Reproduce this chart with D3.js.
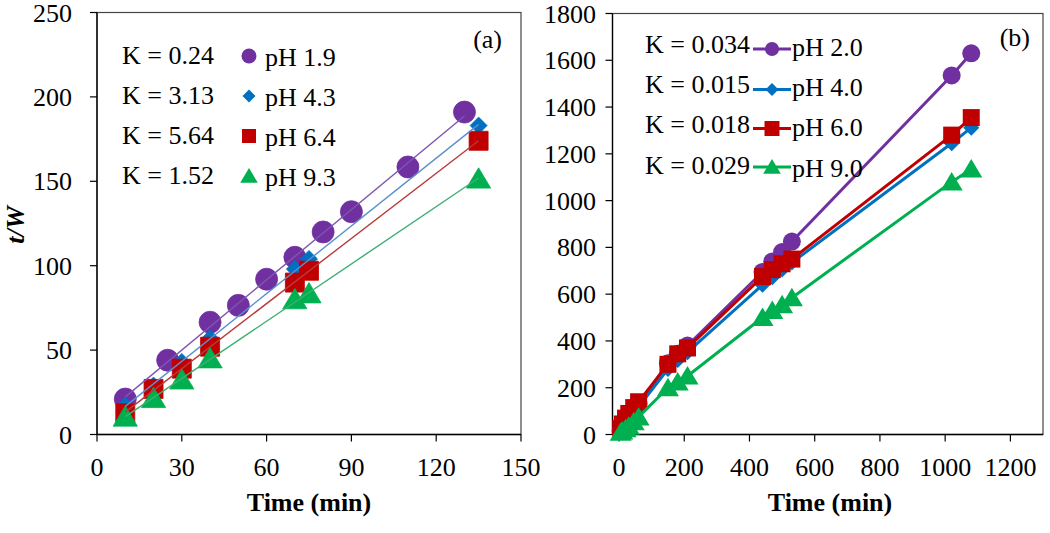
<!DOCTYPE html>
<html><head><meta charset="utf-8">
<script src="https://cdn.jsdelivr.net/npm/d3@7"></script>
<style>
html,body{margin:0;padding:0;background:#fff;}
svg{display:block;}
text{font-family:"Liberation Serif","Times New Roman",serif;fill:#000;}
</style></head>
<body>
<svg id="chart" width="1050" height="533"></svg>
<script>
// ---------- Panel (a) data ----------
const timeA1 = [10, 25, 40, 50, 60, 70, 80, 90, 110, 130];
const tW_pH19 = [21, 44, 66.5, 76.5, 92, 105, 120, 132, 158.5, 191];
const timeA2 = [10, 20, 30, 40, 70, 75, 135];
const tW_pH43 = [17, 29, 43, 57, 98, 104, 183];
const tW_pH64 = [12.5, 27, 39, 52, 90, 97, 174];
const tW_pH93 = [10.5, 21.5, 32.5, 45, 80, 83.5, 151.5];
const labelsA = ["pH 1.9", "pH 4.3", "pH 6.4", "pH 9.3"];
const kA = ["K = 0.24", "K = 3.13", "K = 5.64", "K = 1.52"];
const xTicksA = [0, 30, 60, 90, 120, 150];
const yTicksA = [0, 50, 100, 150, 200, 250];

// ---------- Panel (b) data ----------
const timeB = [5, 10, 20, 30, 45, 60, 150, 180, 210, 440, 470, 500, 530, 1020, 1080];
const tW_pH20 = [15, 30, 50, 70, 100, 130, 305, 345, 380, 695, 740, 780, 825, 1535, 1630];
const tW_pH40 = [12, 25, 45, 62, 88, 118, 280, 318, 352, 640, 672, 705, 735, 1245, 1312];
const tW_pH60 = [25, 45, 70, 90, 115, 140, 300, 345, 370, 675, 705, 730, 750, 1280, 1355];
const tW_pH90 = [10, 15, 25, 35, 55, 75, 200, 225, 250, 500, 530, 555, 585, 1080, 1135];
const labelsB = ["pH 2.0", "pH 4.0", "pH 6.0", "pH 9.0"];
const kB = ["K = 0.034", "K = 0.015", "K = 0.018", "K = 0.029"];
const xTicksB = [0, 200, 400, 600, 800, 1000, 1200];
const yTicksB = [0, 200, 400, 600, 800, 1000, 1200, 1400, 1600, 1800];

// ---------- styles ----------
const colors = ["#7030A0", "#0070C0", "#C00000", "#00B050"];
const fitColors = ["#7F55B0", "#5B8FCF", "#B83A3A", "#3DAF72"];
const shapes = ["circle", "diamond", "square", "triangle"];
const FS = 26;

const svg = d3.select("#chart");

function markerPath(shape, size) {
  // size: characteristic half-size in px
  const s = size;
  if (shape === "circle") return d3.symbol(d3.symbolCircle, Math.PI * s * s)();
  if (shape === "square") return `M${-s},${-s}H${s}V${s}H${-s}Z`;
  if (shape === "diamond") return `M0,${-s}L${s},0L0,${s}L${-s},0Z`;
  if (shape === "triangle") return `M0,${-s}L${s * 1.1},${s * 0.85}L${-s * 1.1},${s * 0.85}Z`;
}
const sizeA = { circle: 11, square: 9.5, diamond: 8.5, triangle: 11 };
const sizeB = { circle: 9, square: 8.5, diamond: 8, triangle: 10 };
const sizeLegA = { circle: 7.5, square: 7, diamond: 6.5, triangle: 8 };
const sizeLegB = { circle: 7, square: 7.5, diamond: 6.5, triangle: 8 };

function drawAxes(g, x, y, xt, yt, left, right, top, bottom, yLabelEnd) {
  // frame
  g.append("rect").attr("x", left).attr("y", top)
    .attr("width", right - left).attr("height", bottom - top)
    .attr("fill", "none").attr("stroke", "#444").attr("stroke-width", 1.2);
  // left axis
  g.append("line").attr("x1", left).attr("x2", left).attr("y1", top).attr("y2", bottom)
    .attr("stroke", "#000").attr("stroke-width", 1.3);
  g.append("line").attr("x1", left).attr("x2", right).attr("y1", bottom).attr("y2", bottom)
    .attr("stroke", "#000").attr("stroke-width", 1.3);
  yt.forEach(v => {
    g.append("line").attr("x1", left - 7).attr("x2", left).attr("y1", y(v)).attr("y2", y(v))
      .attr("stroke", "#000").attr("stroke-width", 1.2);
    g.append("text").attr("x", yLabelEnd).attr("y", y(v) + 9).attr("text-anchor", "end")
      .attr("font-size", FS).text(v);
  });
  xt.forEach(v => {
    g.append("line").attr("x1", x(v)).attr("x2", x(v)).attr("y1", bottom).attr("y2", bottom + 7)
      .attr("stroke", "#000").attr("stroke-width", 1.2);
    g.append("text").attr("x", x(v)).attr("y", 476).attr("text-anchor", "middle")
      .attr("font-size", FS).text(v);
  });
}

// ================= Panel (a) =================
const gA = svg.append("g");
const xA = d3.scaleLinear().domain([0, 150]).range([97, 521]);
const yA = d3.scaleLinear().domain([0, 250]).range([434.5, 12.5]);
drawAxes(gA, xA, yA, xTicksA, yTicksA, 97, 521, 12.5, 434.5, 72);

const seriesA = [
  { t: timeA1, v: tW_pH19 },
  { t: timeA2, v: tW_pH43 },
  { t: timeA2, v: tW_pH64 },
  { t: timeA2, v: tW_pH93 }
];
// markers
seriesA.forEach((s, i) => {
  s.t.forEach((t, j) => {
    gA.append("path").attr("d", markerPath(shapes[i], sizeA[shapes[i]]))
      .attr("transform", `translate(${xA(t)},${yA(s.v[j])})`)
      .attr("fill", colors[i]).attr("stroke", colors[i]).attr("stroke-width", 0.8);
  });
});
// linear fit lines (least squares from the data)
seriesA.forEach((s, i) => {
  const n = s.t.length;
  const mx = d3.mean(s.t), my = d3.mean(s.v);
  let num = 0, den = 0;
  for (let j = 0; j < n; j++) { num += (s.t[j] - mx) * (s.v[j] - my); den += (s.t[j] - mx) ** 2; }
  const b = num / den, a = my - b * mx;
  const x0 = d3.min(s.t), x1 = d3.max(s.t);
  gA.append("line").attr("x1", xA(x0)).attr("y1", yA(a + b * x0))
    .attr("x2", xA(x1)).attr("y2", yA(a + b * x1))
    .attr("stroke", fitColors[i]).attr("stroke-width", 1.4);
});
// legend (a)
const legBaseA = [64, 104, 144, 184];
kA.forEach((k, i) => {
  gA.append("text").attr("x", 122).attr("y", legBaseA[i]).attr("font-size", FS).text(k);
  gA.append("path").attr("d", markerPath(shapes[i], sizeLegA[shapes[i]]))
    .attr("transform", `translate(249,${legBaseA[i] - 8})`)
    .attr("fill", colors[i]);
  gA.append("text").attr("x", 265).attr("y", legBaseA[i] + 2).attr("font-size", FS).text(labelsA[i]);
});
gA.append("text").attr("x", 502).attr("y", 48).attr("text-anchor", "end").attr("font-size", FS).text("(a)");
gA.append("text").attr("x", 309).attr("y", 511).attr("text-anchor", "middle")
  .attr("font-size", FS).attr("font-weight", "bold").text("Time (min)");
gA.append("text").attr("transform", "translate(24,225) rotate(-90)").attr("text-anchor", "middle")
  .attr("font-size", FS).attr("font-weight", "bold").attr("font-style", "italic").text("t/W");

// ================= Panel (b) =================
const gB = svg.append("g");
const xB = d3.scaleLinear().domain([-20, 1300]).range([612.5, 1043]);
const yB = d3.scaleLinear().domain([0, 1800]).range([434.5, 13.5]);
drawAxes(gB, xB, yB, xTicksB, yTicksB, 612.5, 1043, 13.5, 434.5, 596);

const seriesB = [tW_pH20, tW_pH40, tW_pH60, tW_pH90];
const lineB = d3.line().x(d => xB(d[0])).y(d => yB(d[1]));
seriesB.forEach((vals, i) => {
  const pts = timeB.map((t, j) => [t, vals[j]]);
  gB.append("path").attr("d", lineB(pts)).attr("fill", "none")
    .attr("stroke", colors[i]).attr("stroke-width", 3).attr("stroke-linejoin", "round");
  pts.forEach(p => {
    gB.append("path").attr("d", markerPath(shapes[i], sizeB[shapes[i]]))
      .attr("transform", `translate(${xB(p[0])},${yB(p[1])})`)
      .attr("fill", colors[i]);
  });
});
// legend (b)
const legBaseB = [53, 93, 133, 174];
const legLineY = [49, 89.5, 128.5, 167];
kB.forEach((k, i) => {
  gB.append("text").attr("x", 645).attr("y", legBaseB[i]).attr("font-size", FS).text(k);
  gB.append("line").attr("x1", 753).attr("x2", 791).attr("y1", legLineY[i]).attr("y2", legLineY[i])
    .attr("stroke", colors[i]).attr("stroke-width", 3);
  gB.append("path").attr("d", markerPath(shapes[i], sizeLegB[shapes[i]]))
    .attr("transform", `translate(772,${legLineY[i]})`)
    .attr("fill", colors[i]);
  gB.append("text").attr("x", 792).attr("y", legBaseB[i] + 3).attr("font-size", FS).text(labelsB[i]);
});
gB.append("text").attr("x", 1030).attr("y", 46).attr("text-anchor", "end").attr("font-size", FS).text("(b)");
gB.append("text").attr("x", 830).attr("y", 511).attr("text-anchor", "middle")
  .attr("font-size", FS).attr("font-weight", "bold").text("Time (min)");
</script>
</body></html>
